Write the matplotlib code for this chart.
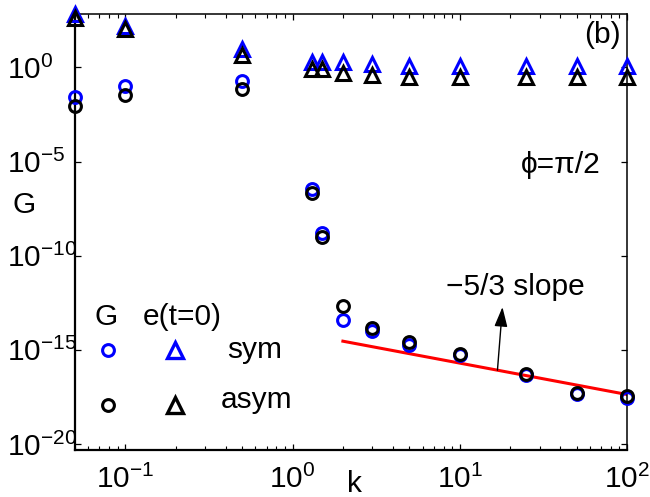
import numpy as np
import matplotlib
matplotlib.use('Agg')
import matplotlib.pyplot as plt
from matplotlib.ticker import LogLocator, NullLocator

plt.rcParams['font.family'] = ['Liberation Sans', 'DejaVu Sans']
plt.rcParams['mathtext.fontset'] = 'custom'
plt.rcParams['mathtext.rm'] = 'Liberation Sans'
plt.rcParams['mathtext.it'] = 'Liberation Sans:italic'
plt.rcParams['mathtext.bf'] = 'Liberation Sans:bold'

FS = 21.5

# wavenumbers
k = [0.05, 0.1, 0.5, 1.3, 1.5, 2, 3, 5, 10, 25, 50, 100]

# growth rate G (circles), log10 values
G_sym_log = [-1.56, -0.98, -0.73, -6.47, -8.80, -13.4, -14.01, -14.72, -15.3, -16.35, -17.34, -17.57]
G_asym_log = [-2.05, -1.47, -1.17, -6.69, -8.99, -12.68, -13.83, -14.6, -15.21, -16.31, -17.31, -17.43]

# initial energy e(t=0) (triangles)
e_sym_log = [2.83, 2.2, 0.96, 0.30, 0.30, 0.27, 0.18, 0.09, 0.09, 0.09, 0.09, 0.09]
e_asym_log = [2.6, 2.02, 0.65, -0.09, -0.09, -0.32, -0.41, -0.53, -0.53, -0.53, -0.53, -0.53]

# -5/3 reference line
k_fit = [2, 100]
fit_coef = 10 ** -14.04

G_sym = 10 ** np.array(G_sym_log)
G_asym = 10 ** np.array(G_asym_log)
e_sym = 10 ** np.array(e_sym_log)
e_asym = 10 ** np.array(e_asym_log)
fit = fit_coef * np.array(k_fit, dtype=float) ** (-5 / 3)

fig = plt.figure(figsize=(6.5, 4.97), dpi=100)
ax = fig.add_axes([0.1154, 0.0946, 0.8492, 0.8782])
ax.set_xscale('log')
ax.set_yscale('log')

blue = '#0000ff'
mk = dict(linestyle='none', markerfacecolor='none', clip_on=False, zorder=3)
ax.plot(k, e_sym, marker='^', markersize=9.5, markeredgewidth=2.2, markeredgecolor=blue, **mk)
ax.plot(k, e_asym, marker='^', markersize=9.5, markeredgewidth=2.2, markeredgecolor='k', **mk)
ax.plot(k_fit, fit, color='red', linewidth=2.2, zorder=2)
ax.plot(k, G_sym, marker='o', markersize=8.5, markeredgewidth=2.2, markeredgecolor=blue, **mk)
ax.plot(k, G_asym, marker='o', markersize=8.5, markeredgewidth=2.2, markeredgecolor='k', **mk)

ax.set_xlim(0.05, 100)
ax.set_ylim(10 ** -20.32, 10 ** 2.86)
ax.set_xticks([1e-1, 1e0, 1e1, 1e2])
ax.xaxis.set_minor_locator(LogLocator(base=10, subs=np.arange(2, 10)))
ax.set_yticks([1e-20, 1e-15, 1e-10, 1e-5, 1e0])
ax.yaxis.set_minor_locator(NullLocator())

ax.tick_params(which='both', direction='in', top=True, right=True, labelsize=FS)
ax.tick_params(which='major', length=4.5, width=0.9)
ax.tick_params(which='minor', length=3, width=0.8)
ax.tick_params(axis='x', pad=11)
ax.tick_params(axis='y', pad=49)
plt.setp(ax.get_yticklabels(), ha='left')

for s in ['top', 'right']:
    ax.spines[s].set_linewidth(1.1)
for s in ['left', 'bottom']:
    ax.spines[s].set_linewidth(1.6)

ax.set_xlabel('k', fontsize=FS)
ax.xaxis.set_label_coords(0.507, -0.079)
ax.xaxis.label.set_va('center')
ax.set_ylabel('G', fontsize=FS, rotation=0)
ax.yaxis.set_label_coords(-0.092, 0.561)
ax.yaxis.label.set_va('center')
ax.yaxis.label.set_ha('center')

ax.text(91.6, 10 ** 1.29, '(b)', fontsize=FS, ha='right', va='baseline')
ax.text(23.2, 10 ** -5.62, '\u03d5=\u03c0/2', fontsize=FS, ha='left', va='baseline')
ax.text(8.28, 10 ** -12.11, '\u22125/3 slope', fontsize=FS, ha='left', va='baseline')
ax.annotate('', xy=(18.0, 10 ** -12.73), xytext=(16.8, 10 ** -16.08),
            arrowprops=dict(arrowstyle='-|>,head_length=0.6,head_width=0.2', color='k',
                            lw=1.0, mutation_scale=20, shrinkA=0, shrinkB=0))

# hand-made legend
tr = ax.transAxes
ax.text(0.036, 0.286, 'G', fontsize=FS, transform=tr, ha='left', va='baseline')
ax.text(0.123, 0.286, 'e(t=0)', fontsize=FS, transform=tr, ha='left', va='baseline')
ax.plot([0.059], [0.229], marker='o', markersize=8.5, markeredgewidth=2.2,
        markeredgecolor=blue, markerfacecolor='none', transform=tr, clip_on=False)
ax.plot([0.181], [0.229], marker='^', markersize=11, markeredgewidth=2.4,
        markeredgecolor=blue, markerfacecolor='none', transform=tr, clip_on=False)
ax.text(0.275, 0.211, 'sym', fontsize=FS, transform=tr, ha='left', va='baseline')
ax.plot([0.059], [0.103], marker='o', markersize=8.5, markeredgewidth=2.2,
        markeredgecolor='k', markerfacecolor='none', transform=tr, clip_on=False)
ax.plot([0.181], [0.103], marker='^', markersize=11, markeredgewidth=2.4,
        markeredgecolor='k', markerfacecolor='none', transform=tr, clip_on=False)
ax.text(0.264, 0.096, 'asym', fontsize=FS, transform=tr, ha='left', va='baseline')

fig.savefig('out.png', dpi=100)
